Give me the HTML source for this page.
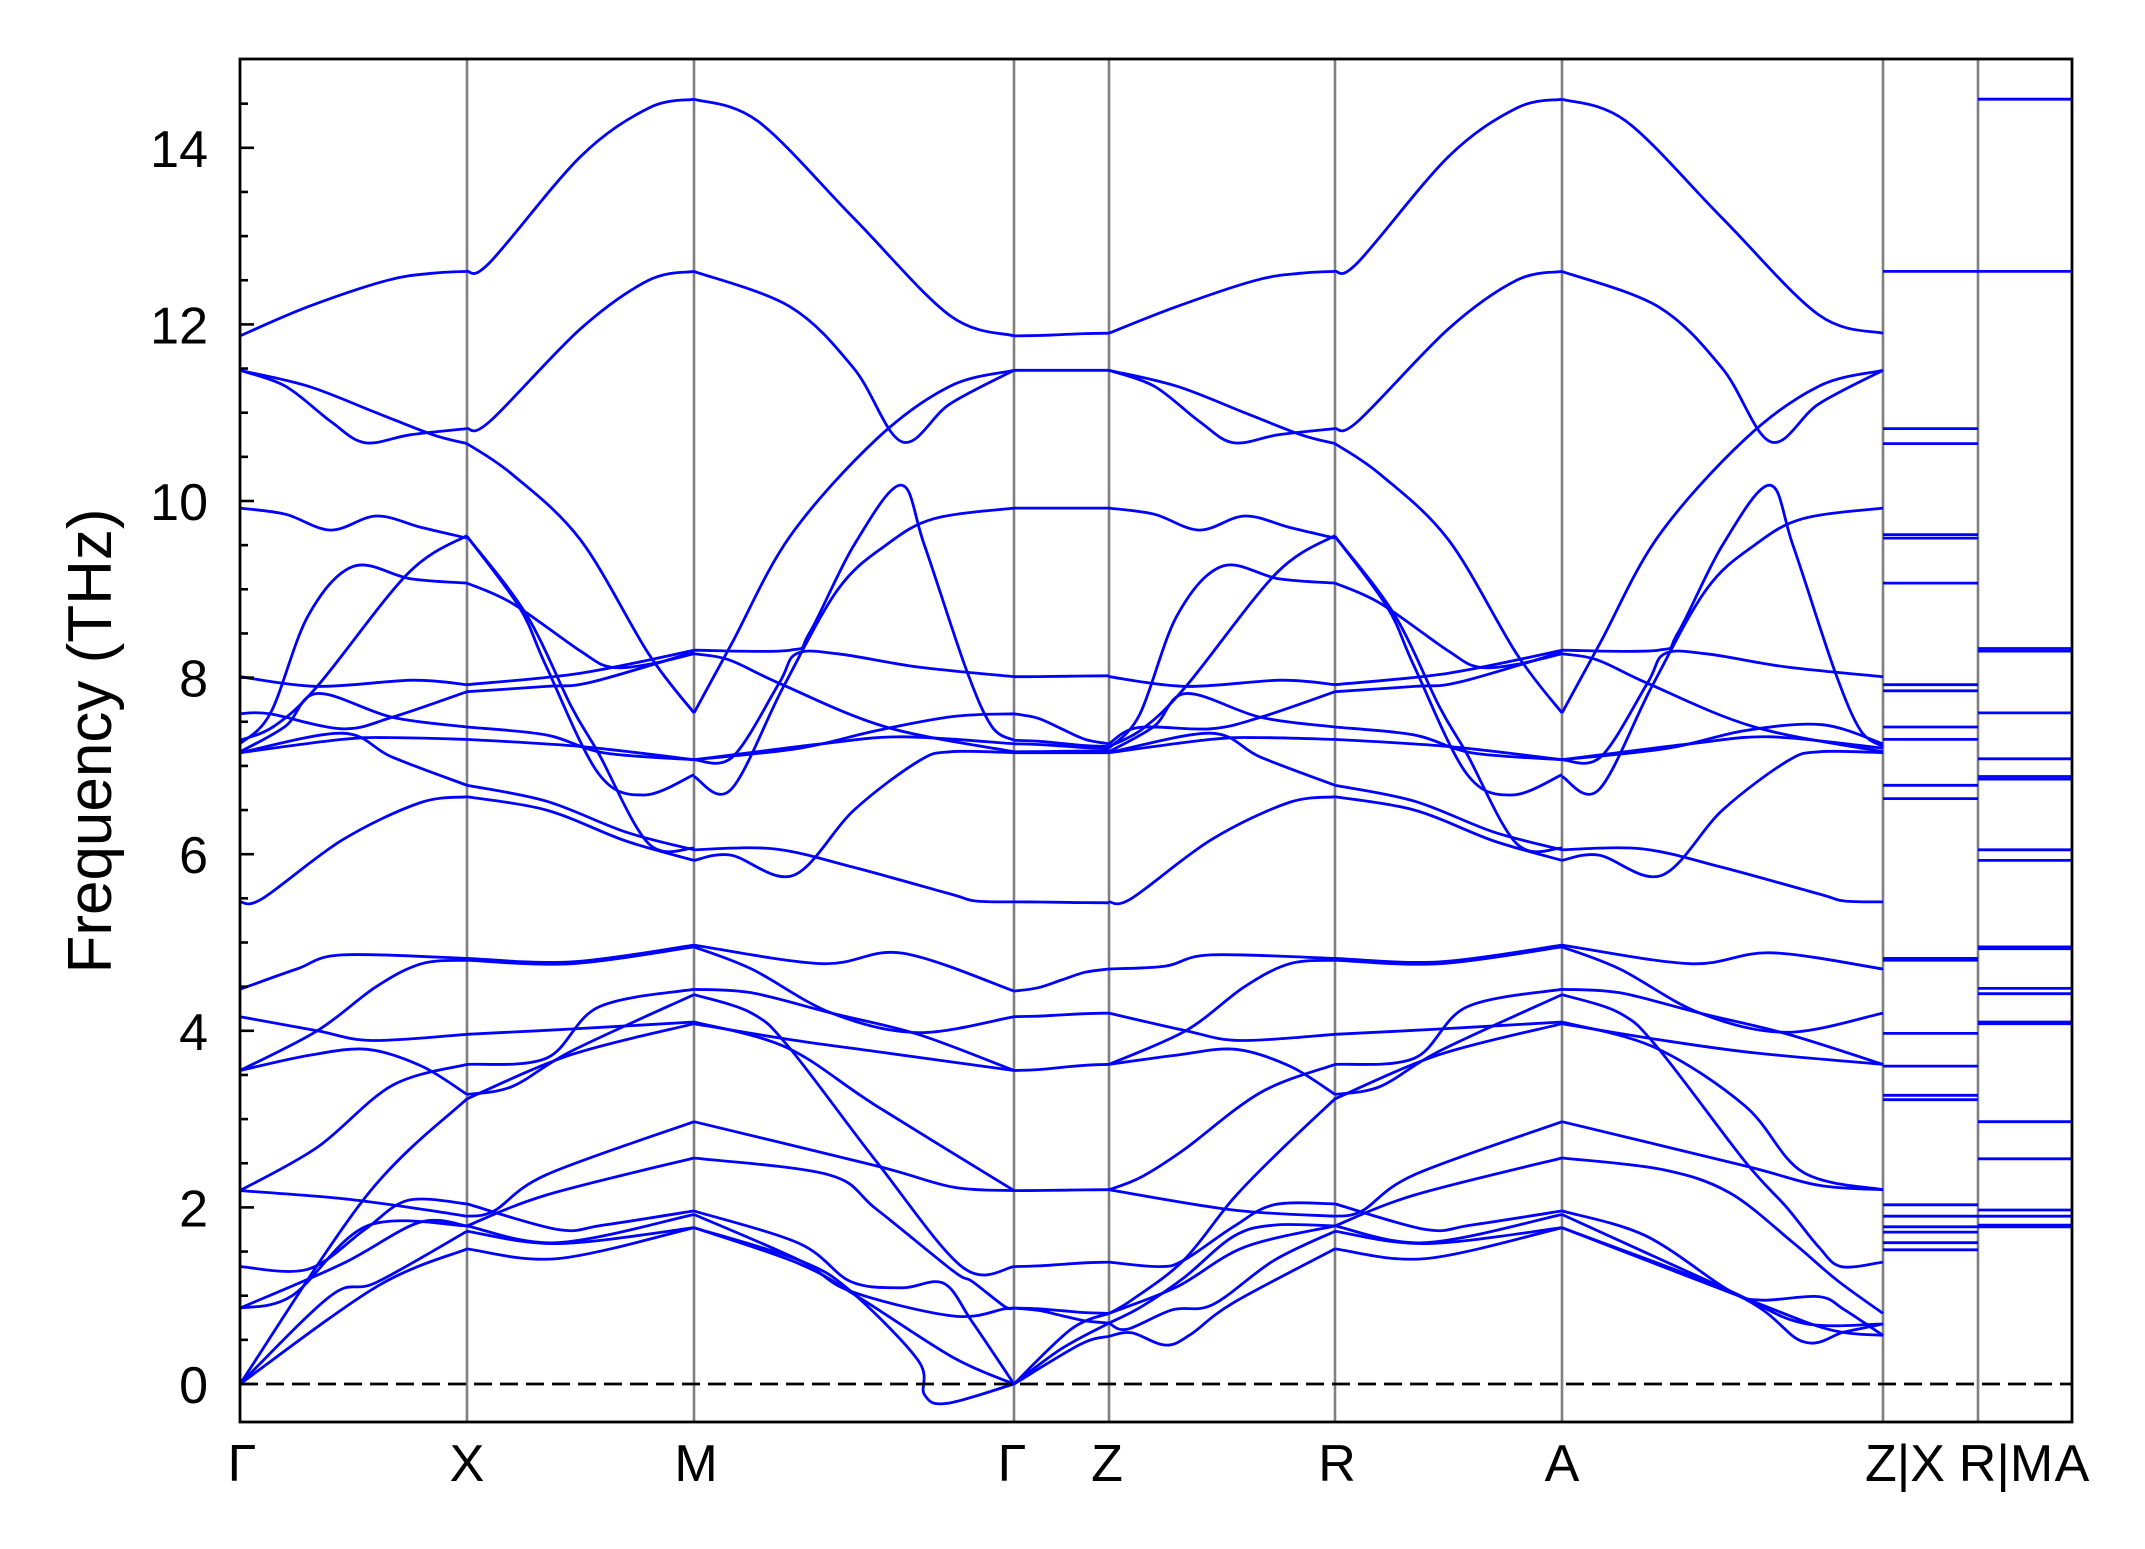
<!DOCTYPE html>
<html><head><meta charset="utf-8"><style>
html,body{margin:0;padding:0;background:#fff;}
svg{display:block;}
text{font-family:"Liberation Sans",Arial,sans-serif;fill:#000;}
</style></head><body>
<svg id="s" xmlns="http://www.w3.org/2000/svg" width="2145" height="1549" viewBox="0 0 2145 1549">
<rect width="2145" height="1549" fill="#fff"/>
<g id="grid"></g>
<g id="bands" fill="none" stroke="#0000ff" stroke-width="2.8"></g>
<line x1="240" y1="1384" x2="2072" y2="1384" stroke="#000" stroke-width="2.8" stroke-dasharray="18,8"/>
<rect x="240" y="59" width="1832" height="1363" fill="none" stroke="#000" stroke-width="2.8"/>
<g id="ticks" stroke="#000" stroke-width="2.6"></g>
<g id="labels" font-size="52"></g>
<text transform="translate(111,741) rotate(-90)" text-anchor="middle" font-size="62">Frequency (THz)</text>
<g font-size="52" text-anchor="middle">
<text x="242" y="1481">Γ</text>
<text x="467" y="1481">X</text>
<text x="696" y="1481">M</text>
<text x="1012" y="1481">Γ</text>
<text x="1107" y="1481">Z</text>
<text x="1337" y="1481">R</text>
<text x="1562" y="1481">A</text>
<text x="1905" y="1481">Z|X</text>
<text x="2006" y="1481">R|M</text>
<text x="2072" y="1481">A</text>
</g>
</svg>
<script>
const NS="http://www.w3.org/2000/svg";
const XS=[240,467,694,1014,1109,1335,1562,1883,1978,2072];
const Y=f=>1384-88.3*f;
function el(p,tag,a){const e=document.createElementNS(NS,tag);for(const k in a)e.setAttribute(k,a[k]);p.appendChild(e);return e;}
const grid=document.getElementById('grid'),bands=document.getElementById('bands'),ticks=document.getElementById('ticks'),labels=document.getElementById('labels');
for(let i=1;i<XS.length-1;i++)el(grid,'line',{x1:XS[i],y1:59,x2:XS[i],y2:1422,stroke:'#808080','stroke-width':2.6});
for(let k=0;k<=29;k++){const f=k*0.5;const y=Y(f);const maj=(k%4===0);el(ticks,'line',{x1:240,y1:y,x2:240+(maj?14:8),y2:y});
 if(maj){const t=el(labels,'text',{x:208,y:y+19,'text-anchor':'end'});t.textContent=String(f);}}
function draw(x0,x1,pts){
 const P=pts.map(p=>[x0+(x1-x0)*p[0],Y(p[1])]);
 let d='M'+P[0][0].toFixed(1)+','+P[0][1].toFixed(1);
 for(let i=0;i<P.length-1;i++){
  const p0=P[Math.max(0,i-1)],p1=P[i],p2=P[i+1],p3=P[Math.min(P.length-1,i+2)];
  let c1x=p1[0]+(p2[0]-p0[0])/6,c1y=p1[1]+(p2[1]-p0[1])/6;
  let c2x=p2[0]-(p3[0]-p1[0])/6,c2y=p2[1]-(p3[1]-p1[1])/6;
  d+=` C${c1x.toFixed(1)},${c1y.toFixed(1)} ${c2x.toFixed(1)},${c2y.toFixed(1)} ${p2[0].toFixed(1)},${p2[1].toFixed(1)}`;
 }
 el(bands,'path',{d:d});
}
const P1=[
[[0,11.87],[0.3,12.2],[0.65,12.5],[0.85,12.58],[1,12.6]],
[[0,11.48],[0.2,11.3],[0.4,10.9],[0.55,10.66],[0.75,10.75],[1,10.82]],
[[0,11.48],[0.3,11.3],[0.6,11.0],[0.85,10.75],[1,10.65]],
[[0,9.92],[0.2,9.85],[0.4,9.67],[0.6,9.83],[0.8,9.7],[1,9.58]],
[[0,7.25],[0.135,7.6],[0.3,8.7],[0.5,9.26],[0.75,9.12],[1,9.07]],
[[0,7.29],[0.15,7.45],[0.34,7.9],[0.74,9.18],[1,9.61]],
[[0,8.01],[0.34,7.9],[0.76,7.97],[1,7.92]],
[[0,7.59],[0.13,7.59],[0.45,7.42],[0.67,7.55],[1,7.84]],
[[0,7.16],[0.2,7.45],[0.34,7.82],[0.67,7.55],[1,7.44]],
[[0,7.15],[0.45,7.37],[0.67,7.1],[1,6.78]],
[[0,7.15],[0.45,7.3],[0.67,7.32],[1,7.3]],
[[0,5.46],[0.1,5.5],[0.45,6.16],[0.79,6.58],[1,6.65]],
[[0,4.47],[0.25,4.7],[0.45,4.86],[1,4.82]],
[[0,4.16],[0.34,4.0],[0.58,3.89],[1,3.96]],
[[0,3.55],[0.3,3.72],[0.56,3.79],[0.8,3.6],[1,3.28]],
[[0,3.55],[0.34,4.0],[0.6,4.5],[0.8,4.76],[1,4.8]],
[[0,2.19],[0.34,2.68],[0.67,3.38],[1,3.62]],
[[0,2.19],[0.45,2.1],[0.8,1.98],[1,1.9]],
[[0,1.33],[0.3,1.3],[0.55,1.75],[0.74,2.08],[1,2.04]],
[[0,0.86],[0.23,1.0],[0.56,1.79],[1,1.79]],
[[0,0.86],[0.45,1.36],[0.79,1.83],[1,1.79]],
[[0,0],[0.4,1.0],[0.6,1.15],[1,1.73]],
[[0,0],[0.6,1.1],[1,1.53]],
[[0,0],[0.56,2.14],[1,3.23]]];
const P2=[
[[0,12.6],[0.1,12.7],[0.5,13.9],[0.8,14.45],[1,14.55]],
[[0,10.82],[0.1,10.9],[0.5,11.95],[0.8,12.5],[1,12.6]],
[[0,10.65],[0.2,10.3],[0.5,9.56],[0.8,8.27],[1,7.6]],
[[0,9.6],[0.23,8.8],[0.35,8.12],[0.58,6.91],[0.78,6.67],[1,6.9]],
[[0,9.6],[0.26,8.72],[0.46,7.67],[0.58,7.14],[0.8,6.12],[1,6.07]],
[[0,9.07],[0.2,8.84],[0.5,8.3],[0.63,8.12],[0.8,8.15],[1,8.27]],
[[0,7.92],[0.5,8.05],[1,8.31]],
[[0,7.84],[0.35,7.9],[0.55,7.95],[1,8.29]],
[[0,7.44],[0.35,7.35],[0.6,7.15],[1,7.07]],
[[0,7.3],[0.5,7.22],[1,7.07]],
[[0,6.78],[0.35,6.6],[0.7,6.25],[1,6.05]],
[[0,6.65],[0.35,6.5],[0.7,6.15],[1,5.93]],
[[0,4.82],[0.46,4.78],[1,4.97]],
[[0,4.8],[0.46,4.76],[1,4.95]],
[[0,3.96],[0.46,4.02],[1,4.1]],
[[0,3.62],[0.35,3.69],[0.58,4.27],[1,4.47]],
[[0,3.28],[0.2,3.37],[0.46,3.77],[1,4.41]],
[[0,3.23],[0.46,3.73],[1,4.08]],
[[0,1.9],[0.12,1.96],[0.35,2.37],[1,2.97]],
[[0,2.04],[0.4,1.75],[0.6,1.8],[1,1.96]],
[[0,1.79],[0.35,2.14],[1,2.56]],
[[0,1.79],[0.4,1.6],[1,1.92]],
[[0,1.73],[0.4,1.59],[1,1.77]],
[[0,1.53],[0.4,1.42],[1,1.77]]];
const P3=[
[[0,14.55],[0.2,14.3],[0.5,13.2],[0.8,12.1],[1,11.87]],
[[0,12.6],[0.3,12.2],[0.5,11.5],[0.65,10.67],[0.8,11.1],[1,11.48]],
[[0,7.6],[0.12,8.4],[0.3,9.6],[0.57,10.7],[0.8,11.3],[1,11.48]],
[[0,8.31],[0.3,8.31],[0.36,8.5],[0.5,9.5],[0.646,10.18],[0.72,9.5],[0.85,8.1],[0.93,7.45],[1,7.29]],
[[0,6.88],[0.115,6.73],[0.28,7.9],[0.45,9.0],[0.6,9.5],[0.75,9.8],[1,9.92]],
[[0,8.27],[0.11,8.2],[0.27,7.93],[0.6,7.44],[1,7.16]],
[[0,7.07],[0.12,7.1],[0.265,7.93],[0.32,8.27],[0.45,8.27],[0.7,8.12],[1,8.01]],
[[0,7.07],[0.33,7.2],[0.57,7.4],[0.81,7.56],[1,7.59]],
[[0,7.07],[0.4,7.25],[0.65,7.33],[1,7.25]],
[[0,5.93],[0.115,5.99],[0.31,5.76],[0.5,6.5],[0.7,7.05],[0.8,7.16],[1,7.15]],
[[0,6.05],[0.25,6.06],[0.5,5.85],[0.8,5.55],[0.88,5.47],[1,5.46]],
[[0,4.97],[0.4,4.76],[0.65,4.88],[1,4.45]],
[[0,4.95],[0.18,4.7],[0.43,4.2],[0.7,3.98],[1,4.16]],
[[0,4.47],[0.18,4.43],[0.43,4.2],[0.7,3.96],[1,3.55]],
[[0,4.08],[0.3,3.9],[0.6,3.75],[1,3.55]],
[[0,4.41],[0.18,4.2],[0.3,3.8],[0.57,2.52],[0.84,1.32],[1,1.33]],
[[0,4.1],[0.29,3.81],[0.57,3.15],[1,2.19]],
[[0,2.97],[0.57,2.47],[0.81,2.23],[1,2.19]],
[[0,2.56],[0.42,2.37],[0.57,1.98],[0.81,1.28],[0.87,1.16],[0.97,0.88],[1,0.86]],
[[0,1.96],[0.33,1.59],[0.49,1.16],[0.65,1.09],[0.78,1.14],[0.87,0.7],[1,0]],
[[0,1.92],[0.33,1.4],[0.49,1.05],[0.81,0.77],[0.97,0.85],[1,0.86]],
[[0,1.77],[0.33,1.4],[0.49,1.05],[0.7,0.27],[0.72,-0.12],[0.79,-0.22],[1,0]],
[[0,1.77],[0.33,1.36],[0.52,0.97],[0.81,0.3],[1,0]]];
const ZM=[[11.87,11.9],[7.59,7.25],[7.29,7.22],[7.25,7.2],[4.47,4.7],[4.45,4.7],[4.16,4.2],[3.55,3.62]];
const zm=f=>{for(const [a,b] of ZM)if(Math.abs(f-a)<0.015)return b;return f;};
P1.forEach(b=>draw(XS[0],XS[1],b));
P2.forEach(b=>draw(XS[1],XS[2],b));
P3.forEach(b=>draw(XS[2],XS[3],b));
P2.forEach(b=>draw(XS[5],XS[6],b));
P1.forEach(b=>{const f0=b[0][1];if(f0<2.5)return;const d=zm(f0)-f0;
 draw(XS[4],XS[5],b.map(([t,f])=>[t,f+d*(t<0.4?Math.pow(1-t/0.4,2):0)]));});
[[[0,2.2],[0.14,2.34],[0.33,2.65],[0.67,3.3],[1,3.62]],
[[0,2.2],[0.55,1.97],[1,1.9]],
[[0,1.38],[0.22,1.33],[0.33,1.4],[0.55,1.78],[0.73,2.03],[1,2.04]],
[[0,0.8],[0.1,0.95],[0.33,1.4],[0.55,2.1],[0.76,2.65],[1,3.23]],
[[0,0.69],[0.14,0.87],[0.33,1.2],[0.55,1.67],[0.73,1.8],[1,1.79]],
[[0,0.54],[0.1,0.58],[0.25,0.44],[0.36,0.56],[0.55,0.92],[1,1.53]],
[[0,0.69],[0.08,0.62],[0.28,0.84],[0.46,0.9],[0.73,1.4],[1,1.73]],
[[0,0.8],[0.3,1.1],[0.6,1.55],[1,1.79]]].forEach(b=>draw(XS[4],XS[5],b));
P3.forEach(b=>{const f0=b[0][1],f1=b[b.length-1][1];if(f0<4.0)return;if(Math.abs(f0-4.41)<0.01||Math.abs(f0-4.1)<0.01)return;const d=zm(f1)-f1;
 draw(XS[6],XS[7],b.map(([t,f])=>[t,f+d*(t>0.6?Math.pow((t-0.6)/0.4,2):0)]));});
[[[0,4.41],[0.18,4.2],[0.3,3.8],[0.57,2.52],[0.7,2.0],[0.8,1.55],[0.87,1.33],[1,1.38]],
[[0,4.1],[0.29,3.81],[0.57,3.15],[0.75,2.4],[1,2.2]],
[[0,2.97],[0.57,2.47],[0.8,2.25],[1,2.2]],
[[0,2.56],[0.31,2.43],[0.52,2.17],[0.72,1.6],[0.855,1.18],[1,0.8]],
[[0,1.96],[0.26,1.68],[0.52,1.06],[0.62,0.95],[0.8,0.99],[0.88,0.84],[1,0.55]],
[[0,1.92],[0.52,1.06],[0.75,0.69],[1,0.68]],
[[0,1.77],[0.55,1.0],[0.75,0.48],[0.88,0.59],[1,0.68]],
[[0,1.77],[0.57,0.97],[0.83,0.62],[1,0.55]]].forEach(b=>draw(XS[6],XS[7],b));
const ease=(a,b)=>[0,0.25,0.5,0.75,1].map(t=>[t,a+(b-a)*(1-Math.cos(Math.PI*t))/2]);
[[11.87,11.9],[11.48,11.48],[9.92,9.92],[8.01,8.02],[7.59,7.25],[7.29,7.22],[7.25,7.2],[7.16,7.17],[7.15,7.15],[5.46,5.45],[4.45,4.7],[4.16,4.2],[3.55,3.62],[2.19,2.2],[1.33,1.38],[0.86,0.8],[0.86,0.69]].forEach(([a,b])=>draw(XS[3],XS[4],ease(a,b)));
[[[0,0],[0.6,0.62],[1,0.8]],[[0,0],[0.7,0.45],[1,0.54]],[[0,0],[0.5,0.4],[1,0.69]]].forEach(b=>draw(XS[3],XS[4],b));
[12.6,10.82,10.65,9.62,9.58,9.07,7.92,7.85,7.44,7.3,6.78,6.63,4.82,4.8,3.97,3.6,3.27,3.22,2.03,1.9,1.78,1.72,1.6,1.52].forEach(f=>draw(XS[7],XS[8],[[0,f],[1,f]]));
[14.55,12.6,8.33,8.3,7.6,7.08,6.88,6.85,6.05,5.93,4.95,4.93,4.48,4.42,4.1,4.08,2.97,2.55,1.97,1.9,1.8,1.78].forEach(f=>draw(XS[8],XS[9],[[0,f],[1,f]]));
</script>
</body></html>
